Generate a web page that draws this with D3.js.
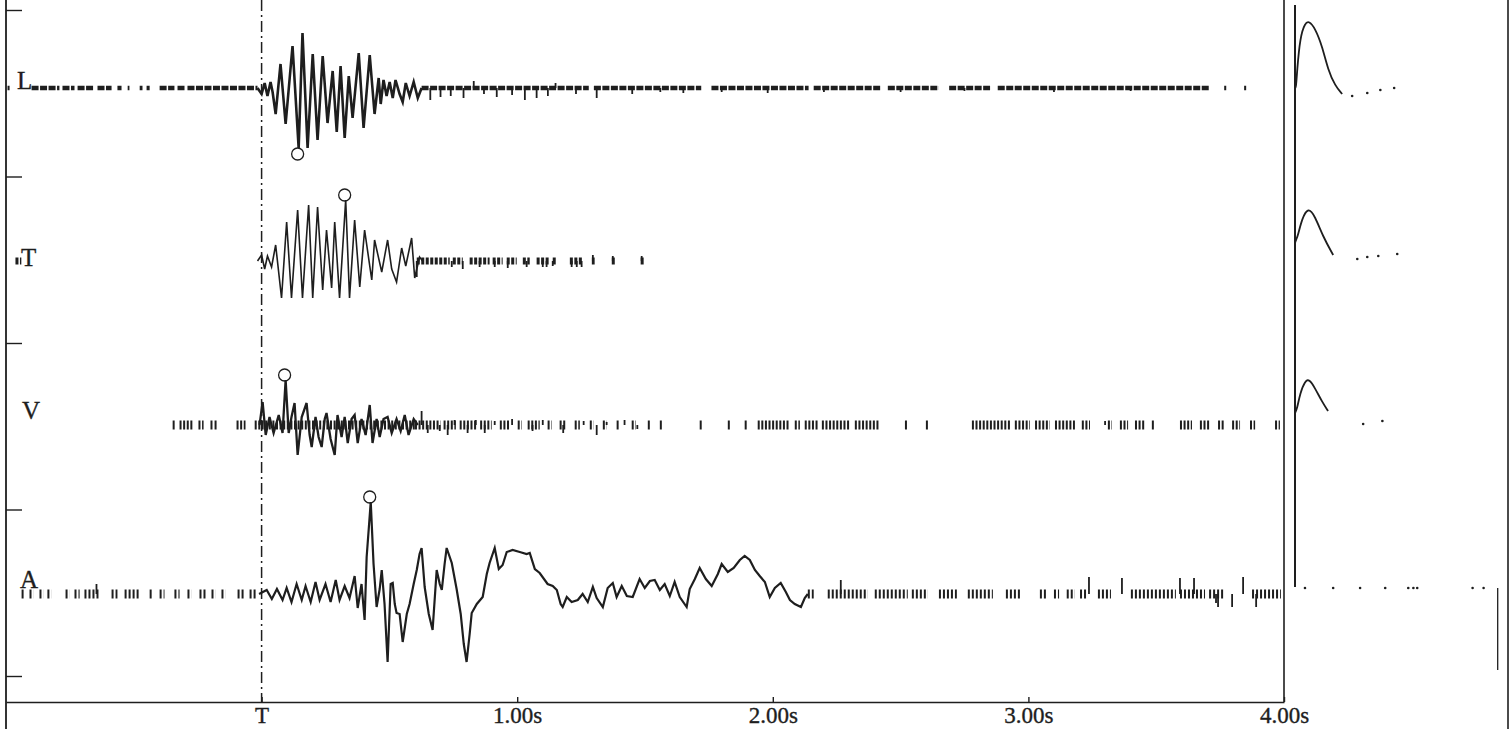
<!DOCTYPE html>
<html>
<head>
<meta charset="utf-8">
<script src="https://cdn.jsdelivr.net/npm/d3@7.9.0/dist/d3.min.js"></script>
<style>
  body { margin: 0; background: #fff; }
  svg { display: block; background: #fff; }
  text { font-family: 'Liberation Serif', 'Times New Roman', serif; fill: #1e1e1e; stroke: #1e1e1e; stroke-width: 0.35; }
</style>
</head>
<body>
<svg id="chart" width="1511" height="729"></svg>
<script>
// time in ms relative to T, amplitude in trace units
const traceNames = ['L', 'T', 'V', 'A'];
const tickValues = [0, 1000, 2000, 3000, 4000];
const tickLabels = ['T', '1.00s', '2.00s', '3.00s', '4.00s'];

const lWave = [[-16,0],[0,-6],[12,5],[23,-8],[35,6],[43,-4],[55,-26],[74,24],[94,-36],[121,42],[145,-60],[160,55],[180,-60],[200,34],[219,-52],[239,32],[258,-35],[278,17],[294,-44],[309,22],[325,-50],[341,12],[356,-30],[380,35],[399,-40],[423,33],[442,-26],[458,10],[466,-16],[477,8],[489,-8],[501,6],[513,-10],[524,8],[540,-6],[552,-14],[564,5],[579,-8],[595,6],[611,-10],[626,0]];
const tWave = [[-16,0],[0,6],[12,-8],[23,5],[39,-6],[55,16],[78,-37],[98,39],[117,-37],[141,51],[160,-37],[184,56],[200,-37],[219,54],[239,-29],[254,31],[274,-27],[286,39],[305,-37],[329,61],[344,-37],[364,41],[384,-26],[403,31],[431,-19],[442,21],[470,-11],[493,21],[509,-8],[528,-21],[548,13],[564,-5],[587,23],[599,-17],[618,4],[630,0]];
const vWave = [[-8,0],[4,23],[16,-10],[31,8],[47,-8],[67,10],[82,-8],[94,45],[106,-8],[117,8],[129,22],[141,-30],[157,8],[176,22],[188,-10],[196,-22],[211,8],[223,-12],[235,-22],[247,6],[254,12],[270,-14],[286,-30],[297,10],[313,-12],[325,8],[337,-18],[352,6],[364,10],[376,-18],[391,6],[407,-10],[423,20],[434,-18],[450,6],[462,-12],[477,6],[493,8],[509,-8],[528,6],[544,-6],[560,10],[575,-10],[595,6],[611,0]];
const aWave = [[-10,0],[20,4],[40,-5],[60,5],[82,-6],[98,6],[117,-8],[137,10],[157,-6],[172,8],[192,-8],[211,12],[227,-6],[250,10],[270,-8],[290,14],[305,-6],[325,8],[344,-4],[364,18],[376,-14],[391,10],[403,-26],[411,37],[427,92],[438,30],[450,-13],[462,5],[470,24],[481,-10],[493,-68],[505,10],[513,11],[521,-10],[528,-19],[540,-20],[552,-48],[568,-20],[579,-10],[595,10],[607,24],[618,40],[626,46],[638,7],[654,-20],[669,-36],[685,24],[697,10],[705,4],[716,30],[724,46],[744,31],[763,5],[779,-20],[791,-50],[802,-68],[814,-40],[822,-19],[842,-10],[865,-3],[881,20],[892,31],[912,46],[928,25],[943,29],[959,42],[982,44],[1010,42],[1037,40],[1049,41],[1069,25],[1088,21],[1119,10],[1139,8],[1155,4],[1170,-10],[1178,-13],[1194,-3],[1213,-8],[1237,-6],[1256,0],[1276,-8],[1296,7],[1311,-4],[1335,-13],[1354,6],[1374,11],[1389,-3],[1409,8],[1429,-2],[1452,-3],[1479,15],[1499,6],[1519,13],[1538,14],[1558,4],[1577,10],[1597,-2],[1616,12],[1636,-3],[1663,-13],[1675,5],[1695,15],[1714,26],[1738,15],[1761,8],[1785,20],[1800,30],[1824,22],[1847,26],[1871,34],[1890,38],[1910,34],[1930,24],[1949,18],[1969,12],[1988,-3],[2008,6],[2031,11],[2051,2],[2067,-6],[2086,-10],[2110,-13],[2125,-4],[2137,0]];

// stretches where the (broken) baseline trace shows
const lSegs = [[-994,-986],[-900,-791],[-779,-732],[-720,-654],[-642,-587],[-564,-548],[-524,-517],[-477,-466],[-450,-438],[-399,-341],[-329,-301],[-290,-16],[626,1280],[1300,1720],[1760,2140],[2160,2420],[2450,2650],[2690,2850],[2880,3710],[3766,3774],[3844,3852]];
const tSegs = [[-963,-940],[607,736],[748,787],[814,892],[904,943],[959,998],[1022,1049],[1076,1127],[1139,1155],[1206,1256],[1292,1303],[1370,1382],[1483,1495]];
const vSegs = [[-348,-337],[-321,-270],[-247,-227],[-200,-192],[-184,-176],[-98,-63],[-27,0],[0,600],[600,700],[712,760],[775,840],[855,900],[932,971],[1002,1018],[1041,1088],[1119,1135],[1166,1190],[1225,1245],[1284,1299],[1335,1350],[1389,1401],[1448,1464],[1511,1519],[1558,1566],[1714,1722],[1824,1836],[1890,1902],[1941,2067],[2086,2106],[2125,2176],[2192,2301],[2321,2419],[2517,2528],[2599,2611],[2779,2928],[2947,3006],[3026,3084],[3104,3182],[3209,3241],[3311,3327],[3358,3390],[3417,3456],[3483,3495],[3593,3640],[3671,3710],[3742,3769],[3797,3828],[3867,3887],[3965,3984]];
const aSegs = [[-939,-924],[-908,-892],[-869,-853],[-838,-822],[-767,-751],[-732,-712],[-693,-634],[-587,-564],[-536,-478],[-438,-423],[-399,-380],[-341,-321],[-290,-274],[-243,-219],[-196,-180],[-157,-141],[-94,-67],[-47,-23],[2137,2160],[2215,2372],[2399,2528],[2544,2607],[2650,2720],[2763,2861],[2912,2967],[3045,3075],[3100,3120],[3150,3182],[3202,3229],[3272,3323],[3401,3577],[3593,3691],[3707,3769],[3875,3988]];

// small ticks in the noise
const lSpikes = [[660,-12],[700,-9],[740,-8],[790,-10],[830,7],[870,-6],[920,-9],[980,-7],[1030,-12],[1076,-10],[1120,-8],[1150,5],[1230,-6],[1311,-10],[1450,-6],[1560,-4],[1650,-5],[1800,-4],[1980,-5],[2200,-4],[2500,-4],[2750,-3],[3100,-4],[3400,-3]];
const tSpikes = [[607,-16],[744,-6],[787,-8],[853,-6],[912,-6],[963,-7],[1037,-6],[1100,-6],[1115,-6],[1139,-5],[1213,-6],[1233,-6],[1252,-6],[1296,6],[1374,5],[1487,5]];
const vSpikes = [[626,14],[650,-8],[697,-6],[728,-10],[755,5],[806,-8],[838,5],[873,-8],[912,4],[980,6],[1060,-6],[1100,5],[1180,-8],[1260,4],[1311,-10],[1350,3],[1420,5],[1470,-4],[3300,4]];
const aSpikes = [[-646,10],[2266,14],[3237,17],[3366,16],[3593,16],[3648,16],[3734,-9],[3742,-13],[3797,-13],[3840,17],[3891,-13]];

// picked phases (circles)
const picks = [[141,-66],[325,66],[90,50],[423,97]];

// calibration pulses, right panel (ms from pulse start)
const lPulse = [[0,0],[4,0],[8,17],[20,51],[39,65],[55,67],[78,60],[106,42],[129,18],[157,2],[184,-6]];
const tPulse = [[0,18],[4,21],[12,26],[27,42],[51,54],[78,45],[110,24],[149,6]];
const vPulse = [[0,12],[8,16],[20,32],[39,44],[55,46],[78,37],[106,23],[129,14]];
const aPulse = [];
const lDots = [[223,-8],[282,-5],[333,-2],[387,0]];
const tDots = [[243,2],[282,4],[325,5],[399,7]];
const vDots = [[266,1],[341,4]];
const aDots = [[39,6],[149,6],[254,6],[352,6],[442,6],[462,6],[477,6],[693,6],[736,6]];
const aCalBar = [[791,6],[791,-76]];

// layout
const W = 1511, H = 729;
const baselines = [88, 261, 425, 594];
const labelPos = [[17, 1], [21, 5], [22, -6], [20, -6]];
const traceStyle = [
  { lw: 2.6, segW: 4.5, dash: '7,1.5' },
  { lw: 1.6, segW: 7, dash: '3,1.5' },
  { lw: 2.3, segW: 9, dash: '2,1.6' },
  { lw: 2.2, segW: 9, dash: '2,2' },
];
const ink = '#1e1e1e';

const svg = d3.select('#chart');

const x = d3.scaleLinear().domain([-1000, 4000]).range([6, 1284]);
const calX = d3.scaleLinear().domain([0, 800]).range([1295, 1500]);
const yScales = baselines.map(b => d3.scaleLinear().domain([-83, 83]).range([b + 83, b - 83]));

const traces = [
  { wave: lWave, segs: lSegs, spikes: lSpikes, pulse: lPulse, dots: lDots },
  { wave: tWave, segs: tSegs, spikes: tSpikes, pulse: tPulse, dots: tDots },
  { wave: vWave, segs: vSegs, spikes: vSpikes, pulse: vPulse, dots: vDots },
  { wave: aWave, segs: aSegs, spikes: aSpikes, pulse: aPulse, dots: aDots },
];

// frame lines
svg.append('line')
  .attr('x1', 6).attr('x2', 6).attr('y1', 0).attr('y2', H)
  .attr('stroke', ink).attr('stroke-width', 1.8);
svg.append('line')
  .attr('x1', x(4000)).attr('x2', x(4000)).attr('y1', 0).attr('y2', 702)
  .attr('stroke', ink).attr('stroke-width', 1.6);
svg.append('line')
  .attr('x1', 1508).attr('x2', 1508).attr('y1', 0).attr('y2', H)
  .attr('stroke', ink).attr('stroke-width', 1.6);

// left ticks
const tickY = d3.scaleLinear().domain([0, 4]).range([10, 676]);
const leftAxis = svg.append('g')
  .attr('transform', 'translate(6,0)')
  .call(d3.axisRight(tickY).ticks(5).tickSize(16).tickFormat(''));
leftAxis.select('.domain').remove();
leftAxis.selectAll('line').attr('stroke', ink).attr('stroke-width', 1.4);

// time axis
const xAxis = svg.append('g')
  .attr('transform', 'translate(0,702)')
  .call(d3.axisBottom(x)
    .tickValues(tickValues)
    .tickFormat((d, i) => tickLabels[i])
    .tickSizeInner(-5)
    .tickSizeOuter(0)
    .tickPadding(5));
xAxis.select('.domain').attr('stroke', ink).attr('stroke-width', 1.4);
xAxis.selectAll('line').attr('stroke', ink).attr('stroke-width', 1.4);
xAxis.selectAll('text')
  .attr('font-family', "'Liberation Serif', 'Times New Roman', serif")
  .attr('font-size', 23)
  .attr('fill', ink);

// origin line at T
svg.append('line')
  .attr('x1', x(0)).attr('x2', x(0)).attr('y1', 0).attr('y2', 702)
  .attr('stroke', ink).attr('stroke-width', 1.5)
  .attr('stroke-dasharray', '11,4,2,4');

// traces
traces.forEach((tr, i) => {
  const y = yScales[i];
  const st = traceStyle[i];
  const g = svg.append('g');

  g.selectAll('line.seg')
    .data(tr.segs)
    .join('line')
    .attr('class', 'seg')
    .attr('x1', d => x(d[0])).attr('x2', d => x(d[1]))
    .attr('y1', y(0)).attr('y2', y(0))
    .attr('stroke', ink)
    .attr('stroke-width', st.segW)
    .attr('stroke-dasharray', st.dash);

  g.selectAll('line.spike')
    .data(tr.spikes)
    .join('line')
    .attr('class', 'spike')
    .attr('x1', d => x(d[0])).attr('x2', d => x(d[0]))
    .attr('y1', y(0)).attr('y2', d => y(d[1]))
    .attr('stroke', ink).attr('stroke-width', 1.8);

  const line = d3.line().x(d => x(d[0])).y(d => y(d[1]));
  g.append('path')
    .datum(tr.wave)
    .attr('d', line)
    .attr('fill', 'none')
    .attr('stroke', ink)
    .attr('stroke-width', st.lw)
    .attr('stroke-linejoin', 'miter');

  const p = picks[i];
  g.append('circle')
    .attr('cx', x(p[0])).attr('cy', y(p[1])).attr('r', 6)
    .attr('fill', 'none').attr('stroke', ink).attr('stroke-width', 1.3);

  // calibration panel
  const cal = d3.line().x(d => calX(d[0])).y(d => y(d[1])).curve(d3.curveBasis);
  if (tr.pulse.length) {
    g.append('path')
      .datum(tr.pulse)
      .attr('d', cal)
      .attr('fill', 'none').attr('stroke', ink).attr('stroke-width', 1.8);
  }
  g.selectAll('circle.dot')
    .data(tr.dots)
    .join('circle')
    .attr('class', 'dot')
    .attr('cx', d => calX(d[0])).attr('cy', d => y(d[1])).attr('r', 1.3)
    .attr('fill', ink);

  g.append('text')
    .attr('x', labelPos[i][0])
    .attr('y', y(0) + labelPos[i][1])
    .attr('font-size', 25)
    .text(traceNames[i]);
});

// calibration stem and end bar
svg.append('line')
  .attr('x1', calX(0)).attr('x2', calX(0))
  .attr('y1', yScales[0](83)).attr('y2', yScales[3](7))
  .attr('stroke', ink).attr('stroke-width', 2);
svg.append('line')
  .attr('x1', calX(aCalBar[0][0])).attr('x2', calX(aCalBar[1][0]))
  .attr('y1', yScales[3](aCalBar[0][1])).attr('y2', yScales[3](aCalBar[1][1]))
  .attr('stroke', ink).attr('stroke-width', 1.3);
</script>
</body>
</html>
